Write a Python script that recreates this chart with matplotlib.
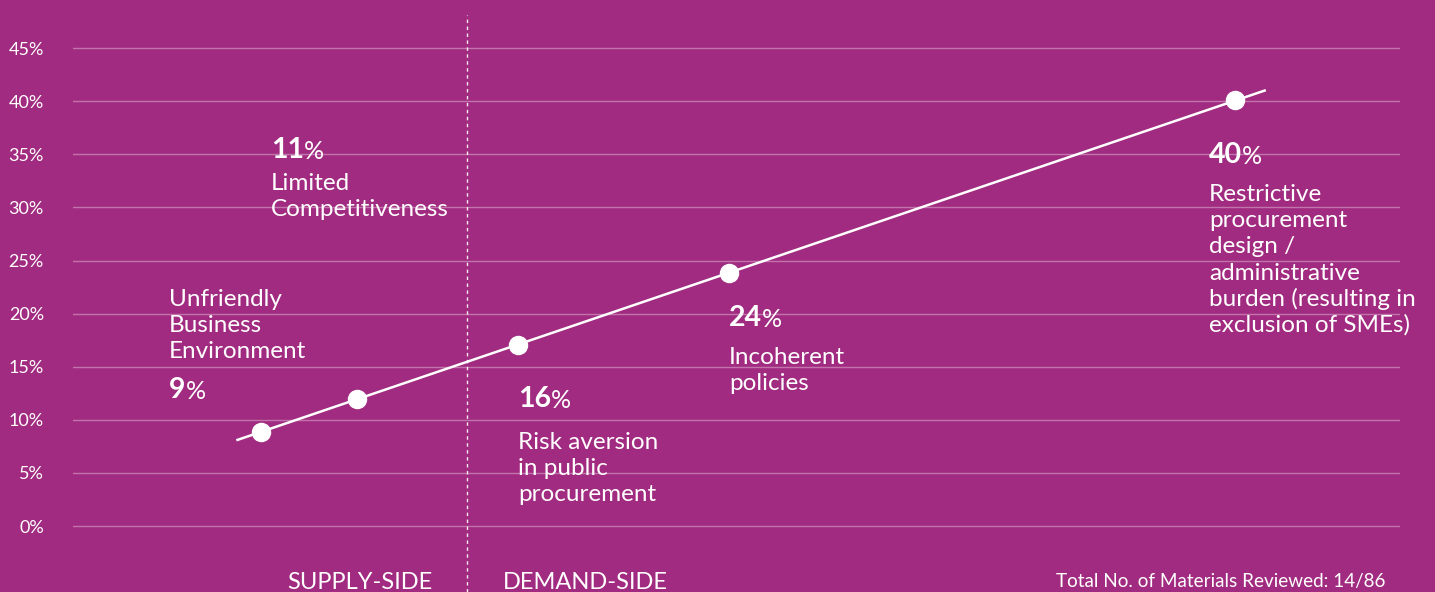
import numpy as np
import matplotlib.pyplot as plt
import matplotlib.transforms as mtransforms

# Datos del gráfico
categories = [
    "Unfriendly\nBusiness\nEnvironment",
    "Limited\nCompetitiveness",
    "Risk aversion\nin public\nprocurement",
    "Incoherent\npolicies",
    "Restrictive\nprocurement\ndesign /\nadministrative\nburden (resulting in\nexclusion of SMEs)",
]
shares = [9, 11, 16, 24, 40]            # porcentaje mostrado en la etiqueta
point_y = [8.9, 12.0, 17.0, 23.8, 40.1]  # altura de cada punto (%)
point_x = [1.42, 2.14, 3.35, 4.94, 8.76]  # posición horizontal
y_ticks = [0, 5, 10, 15, 20, 25, 30, 35, 40, 45]
side_labels = ["SUPPLY-SIDE", "DEMAND-SIDE"]
note = "Total No. of Materials Reviewed: 14/86"

BG = "#A12B80"
W, H = 1435, 592

plt.rcParams['font.family'] = ['Lato', 'DejaVu Sans']

fig = plt.figure(figsize=(W / 100, H / 100), dpi=100, facecolor=BG)
ax = fig.add_axes([73 / W, 0, 1327 / W, 1])
ax.set_facecolor(BG)
ax.set_xlim(0, 10)
ax.set_ylim(-6.21, 49.53)

for s in ax.spines.values():
    s.set_visible(False)

ax.set_yticks(y_ticks)
ax.set_yticklabels([f"{v}%" for v in y_ticks])
ax.set_xticks([])
ax.tick_params(axis='y', length=0, pad=21, labelcolor='white', labelsize=13)
ax.yaxis.grid(True, color='white', alpha=0.35, lw=1)
ax.set_axisbelow(True)

# línea divisoria supply / demand
ax.vlines(2.97, -6.21, 48.1, colors='white', linestyles=(0, (2.5, 2.5)), lw=1, alpha=0.9)

# línea de tendencia y puntos
coef = np.polyfit(point_x, point_y, 1)
xs = np.array([1.24, 8.98])
ax.plot(xs, np.polyval(coef, xs), color='white', lw=1.8, zorder=3)
ax.plot(point_x, point_y, 'o', ms=13, color='white', zorder=4)

# texto en coordenadas de pixel (origen arriba a la izquierda)
px = mtransforms.Affine2D().scale(1 / W, -1 / H).translate(0, 1) + fig.transFigure

num_pos = [(169, 398), (271, 158), (518, 407), (729, 326), (1209, 163)]
lab_pos = [(169, 306), (271, 190), (518, 449), (729, 364), (1209, 201)]
line_h = 26.2

for i, cat in enumerate(categories):
    nx, ny = num_pos[i]
    t = ax.text(nx, ny, str(shares[i]), transform=px, color='white',
                fontsize=20.5, fontweight='bold', va='baseline', ha='left')
    ax.annotate('%', xy=(1, 0), xycoords=t, color='white', fontsize=18,
                va='bottom', ha='left')
    lx, ly = lab_pos[i]
    for j, line in enumerate(cat.split("\n")):
        ax.text(lx, ly + j * line_h, line, transform=px, color='white',
                fontsize=17.5, va='baseline', ha='left')

ax.text(432, 589, side_labels[0], transform=px, color='white', fontsize=17,
        va='baseline', ha='right')
ax.text(503, 589, side_labels[1], transform=px, color='white', fontsize=17,
        va='baseline', ha='left')
ax.text(1386, 587, note, transform=px, color='white', fontsize=13.6,
        va='baseline', ha='right')

fig.savefig("out.png", dpi=100, facecolor=BG)
